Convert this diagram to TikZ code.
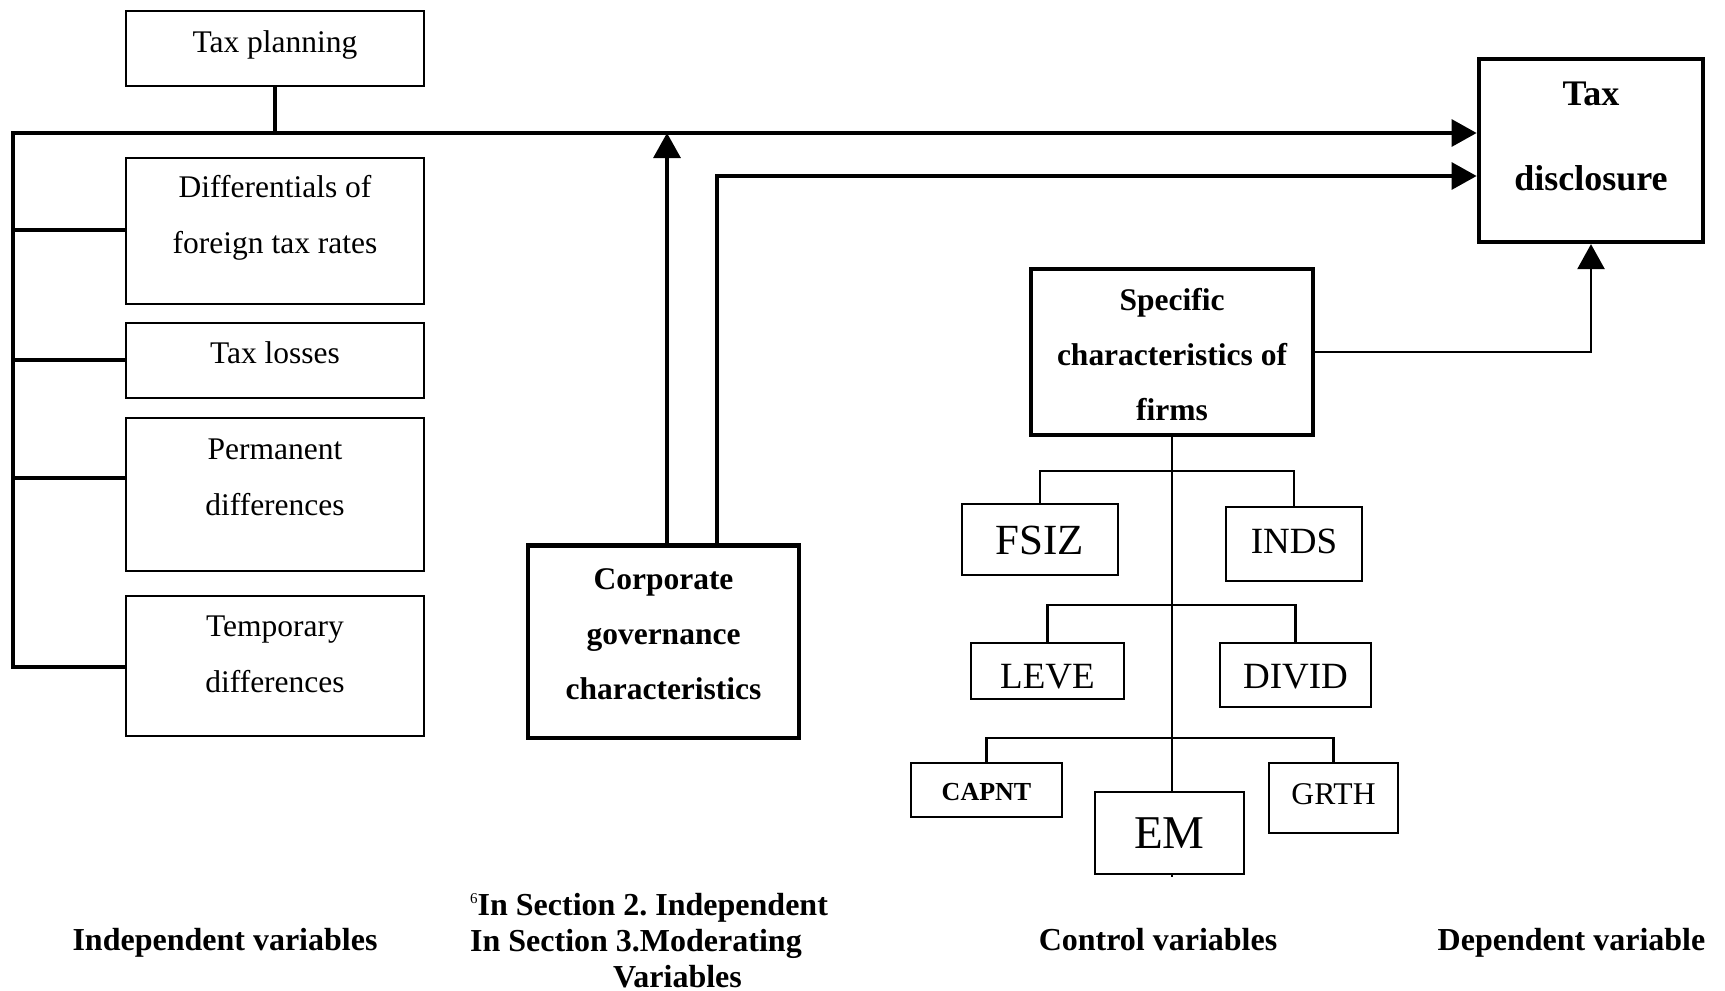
\documentclass[tikz,border=0pt]{standalone}
\usepackage{fontspec}
\setmainfont{Liberation Serif}
\usetikzlibrary{arrows.meta}
\pgfdeclarelayer{background}
\pgfsetlayers{background,main}
\frenchspacing
\begin{document}
\begin{tikzpicture}[x=1pt,y=-1pt,
  thinbox/.style={draw, line width=1.6pt, fill=white, inner sep=0pt},
  thickbox/.style={draw, line width=4.3pt, fill=white, inner sep=0pt},
  conn/.style={line width=3.2pt},
  tree/.style={line width=2.7pt},
  tip/.style={-{Triangle[length=25pt,width=27pt]}},
  txt/.style={anchor=base, align=center, inner sep=0pt, font=\fontsize{31.5}{56}\selectfont},
  btxt/.style={anchor=base, align=center, inner sep=0pt, font=\fontsize{31.5}{55}\selectfont\bfseries},
  lbl/.style={anchor=base, inner sep=0pt, font=\fontsize{32}{36}\selectfont\bfseries},
  ]
\useasboundingbox (0,0) rectangle (1725,991);

% independent variables (multi-line texts are placed by their last baseline)
\node[thinbox, minimum width=298, minimum height=75] (tp) at (275,48.5) {};
\node[thinbox, minimum width=298, minimum height=146] (diff) at (275,231) {};
\node[thinbox, minimum width=298, minimum height=75] (tl) at (275,360.5) {};
\node[thinbox, minimum width=298, minimum height=153] (perm) at (275,494.5) {};
\node[thinbox, minimum width=298, minimum height=140] (temp) at (275,666) {};
\node[txt] (tpT) at (275,52) {Tax planning};
\node[txt] (diffT) at (275,253) {Differentials of\\foreign tax rates};
\node[txt] (tlT) at (275,363) {Tax losses};
\node[txt] (permT) at (275,515) {Permanent\\differences};
\node[txt] (tempT) at (275,692) {Temporary\\differences};

% moderating variables
\node[thickbox, minimum width=271, minimum height=192.5] (cg) at (663.5,641.75) {};
\node[btxt] (cgT) at (663.5,699) {Corporate\\governance\\characteristics};

% control variables
\node[thickbox, minimum width=282, minimum height=166.5] (sc) at (1172,352) {};
\node[btxt] (scT) at (1172,420) {Specific\\characteristics of\\firms};
\node[thinbox, minimum width=156, minimum height=71] (fsiz) at (1040,539.5) {};
\node[thinbox, minimum width=136, minimum height=74] (inds) at (1294,544) {};
\node[thinbox, minimum width=153, minimum height=56] (leve) at (1047.5,671) {};
\node[thinbox, minimum width=151, minimum height=64] (divid) at (1295.5,675) {};
\node[thinbox, minimum width=151, minimum height=54] (capnt) at (986.5,790) {};
\node[thinbox, minimum width=149, minimum height=82] (em) at (1169.5,833) {};
\node[thinbox, minimum width=129, minimum height=70] (grth) at (1333.5,798) {};
\node[txt, font=\fontsize{43}{43}\selectfont] (fsizT) at (1040,554) {FSIZ};
\node[txt, font=\fontsize{37}{37}\selectfont] (indsT) at (1294,553) {INDS};
\node[txt, font=\fontsize{37}{37}\selectfont] (leveT) at (1047.5,688) {LEVE};
\node[txt, font=\fontsize{37}{37}\selectfont] (dividT) at (1295.5,688) {DIVID};
\node[btxt, font=\fontsize{26}{26}\selectfont\bfseries] (capntT) at (986.5,800) {CAPNT};
\node[txt, font=\fontsize{47}{47}\selectfont] (emT) at (1169.5,848) {EM};
\node[txt, font=\fontsize{31.6}{32}\selectfont] (grthT) at (1333.5,804) {GRTH};

% dependent variable
\node[thickbox, minimum width=224.5, minimum height=183] (td) at (1591,150.5) {};
\node[btxt, font=\fontsize{36}{85}\selectfont\bfseries] (tdT) at (1591,190) {Tax\\disclosure};

% column captions
\node[lbl] (capInd) at (225,950) {Independent variables};
\node[lbl, anchor=base west] (capMod1) at (470,915) {{\mdseries\fontsize{15}{15}\selectfont\raisebox{12pt}{6}}In Section 2. Independent};
\node[lbl, anchor=base west] (capMod2) at (470,951) {In Section 3.Moderating};
\node[lbl, anchor=base west] (capMod3) at (613,987) {Variables};
\node[lbl] (capCtl) at (1158,950) {Control variables};
\node[lbl] (capDep) at (1571.5,950) {Dependent variable};

% junction points
\coordinate (jl) at (13,133);
\coordinate (bdiff) at (13,230);
\coordinate (btl) at (13,360);
\coordinate (bperm) at (13,478);
\coordinate (btemp) at (13,667);
\coordinate (cgA) at ([xshift=3.5pt]cg.north);
\coordinate (cgB) at ([xshift=53.5pt]cg.north);
\coordinate (tdB) at ([yshift=-25.5pt]td.west);
\coordinate (b1) at (1172,471);
\coordinate (b2) at (1172,605);
\coordinate (b3) at (1172,738);
\coordinate (stemend) at (1172,877);

\begin{pgfonlayer}{background}
  % independent variables bus
  \draw[conn] (tp.south) -- (tp.south |- jl);
  \draw[conn,tip] (btemp -| temp.west) -- (btemp) -- (jl) -- (jl -| td.west);
  \draw[conn] (bdiff) -- (bdiff -| diff.west);
  \draw[conn] (btl) -- (btl -| tl.west);
  \draw[conn] (bperm) -- (bperm -| perm.west);
  % moderating links
  \draw[conn,tip] (cgA) -- (cgA |- jl);
  \draw[conn,tip] (cgB) |- (tdB);
  % control variables tree
  \draw[tree,tip] (sc.east) -| (td.south);
  \draw[tree] (sc.south) -- (stemend);
  \draw[tree] (fsiz.north) |- (b1) -| (inds.north);
  \draw[tree] (leve.north) |- (b2) -| (divid.north);
  \draw[tree] (capnt.north) |- (b3) -| (grth.north);
\end{pgfonlayer}
\end{tikzpicture}
\end{document}
